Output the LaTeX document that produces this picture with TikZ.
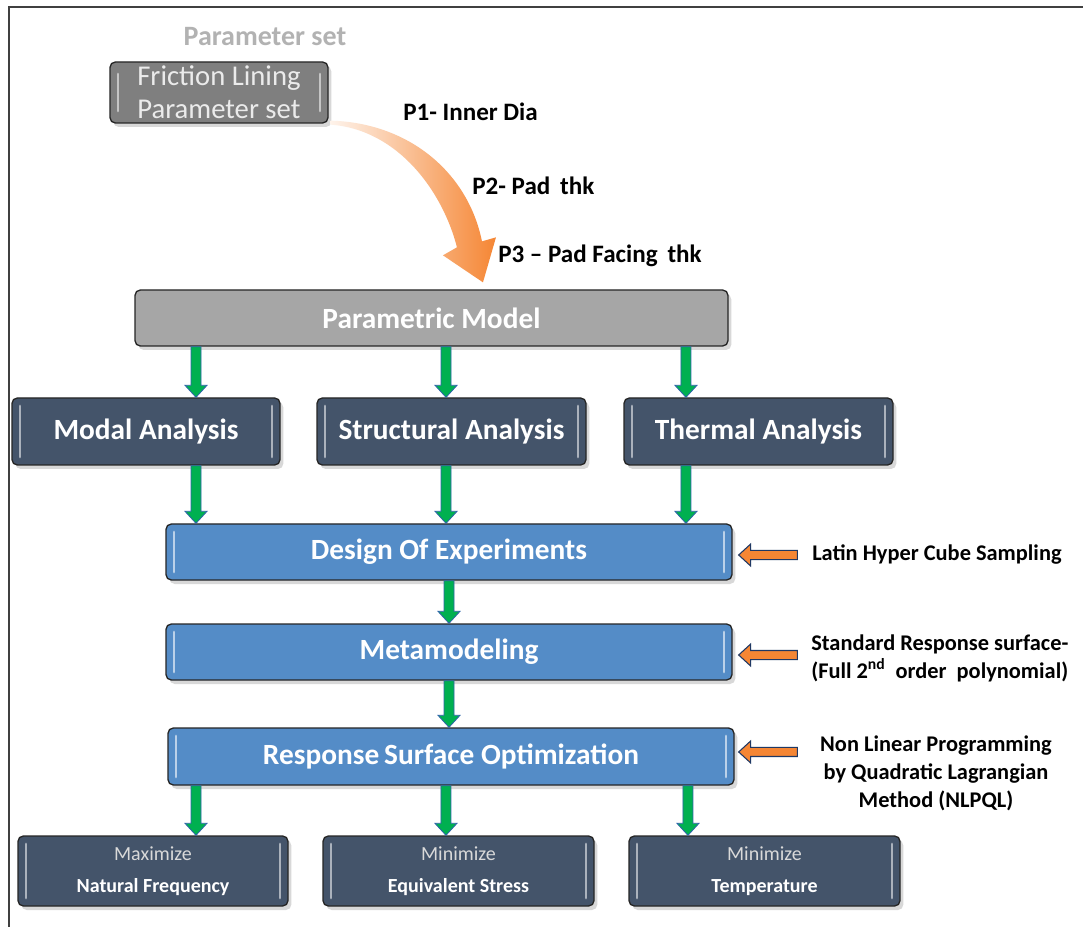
\documentclass[tikz,border=0pt]{standalone}
\usepackage{fontspec}
\setmainfont{Carlito}
\usetikzlibrary{calc,shadows}
\definecolor{fricgray}{RGB}{127,127,127}
\definecolor{pmgray}{RGB}{166,166,166}
\definecolor{slate}{RGB}{68,84,106}
\definecolor{boxblue}{RGB}{84,140,199}
\definecolor{agreen}{RGB}{0,176,80}
\definecolor{ablue}{RGB}{46,100,170}
\definecolor{orng}{RGB}{245,134,52}
\definecolor{navy}{RGB}{31,56,100}
\definecolor{framegray}{RGB}{64,64,64}
\tikzset{
  basebox/.style={draw=black!85, line width=1pt, rounded corners=4pt, inner sep=0pt,
    drop shadow={shadow xshift=2.5pt, shadow yshift=-3pt, opacity=0.3}},
  barsdark/.style={path picture={
    \draw[white!55!slate, line width=2.2pt, line cap=round]
      ([xshift=6pt,yshift=-6pt]path picture bounding box.north west) --
      ([xshift=6pt,yshift=6pt]path picture bounding box.south west);
    \draw[white!55!slate, line width=2.2pt, line cap=round]
      ([xshift=-6pt,yshift=-6pt]path picture bounding box.north east) --
      ([xshift=-6pt,yshift=6pt]path picture bounding box.south east);}},
  barsblue/.style={path picture={
    \draw[white!60!boxblue, line width=2.2pt, line cap=round]
      ([xshift=6pt,yshift=-6pt]path picture bounding box.north west) --
      ([xshift=6pt,yshift=6pt]path picture bounding box.south west);
    \draw[white!60!boxblue, line width=2.2pt, line cap=round]
      ([xshift=-6pt,yshift=-6pt]path picture bounding box.north east) --
      ([xshift=-6pt,yshift=6pt]path picture bounding box.south east);}},
  barsgray/.style={path picture={
    \draw[white!55!fricgray, line width=2pt, line cap=round]
      ([xshift=6pt,yshift=-9pt]path picture bounding box.north west) --
      ([xshift=6pt,yshift=9pt]path picture bounding box.south west);
    \draw[white!55!fricgray, line width=2pt, line cap=round]
      ([xshift=-6pt,yshift=-9pt]path picture bounding box.north east) --
      ([xshift=-6pt,yshift=9pt]path picture bounding box.south east);}},
  darkbox/.style={basebox, fill=slate, barsdark, text=white, minimum height=50.25pt,
    font=\fontsize{22pt}{26pt}\selectfont\bfseries},
  bluebox/.style={basebox, fill=boxblue, barsblue, text=white, minimum width=424.5pt,
    minimum height=42pt, font=\fontsize{22pt}{26pt}\selectfont\bfseries},
  goalbox/.style={basebox, fill=slate, barsdark, text=white, minimum width=202.5pt,
    minimum height=52.5pt, align=center, font=\fontsize{15pt}{24pt}\selectfont},
  plabel/.style={anchor=west, inner sep=0pt, font=\fontsize{18.8pt}{22pt}\selectfont\bfseries},
  slabel/.style={inner sep=0pt, font=\fontsize{16.8pt}{21pt}\selectfont\bfseries},
  garrow/.style={draw=ablue, fill=agreen, line width=0.6pt, to path={
    let \p1=(\tikztostart), \p2=(\tikztotarget) in
    (\x1-3.75pt,\y1) -- (\x1-3.75pt,\y2+9pt) -- (\x1-8.25pt,\y2+9pt) -- (\x1,\y2)
    -- (\x1+8.25pt,\y2+9pt) -- (\x1+3.75pt,\y2+9pt) -- (\x1+3.75pt,\y1) -- cycle}},
  oarrow/.style={draw=navy, fill=orng, line width=0.8pt, to path={
    let \p1=(\tikztostart), \p2=(\tikztotarget) in
    (\x1,\y1+3.4pt) -- (\x2+9pt,\y1+3.4pt) -- (\x2+9pt,\y1+8.25pt) -- (\x2,\y1)
    -- (\x2+9pt,\y1-8.25pt) -- (\x2+9pt,\y1-3.4pt) -- (\x1,\y1-3.4pt) -- cycle}}
}
\begin{document}
\begin{tikzpicture}[x=0.75pt,y=-0.75pt]
\useasboundingbox (0,0) rectangle (1083,927);
\fill[white] (0,0) rectangle (1083,927);
% frame
\draw[framegray, line width=2pt] (9,927) -- (9,7) -- (1083,7);

% ghost title
\node[text=black!30, font=\fontsize{21pt}{24pt}\selectfont\bfseries] (ghost) at (265,37) {Parameter set};

% top boxes
\node[basebox, fill=fricgray, barsgray, text=white!92!black, minimum width=163.5pt, minimum height=45.75pt,
  align=left, font=\fontsize{21.5pt}{24.75pt}\selectfont] (fric) at (219,92.5) {Friction Lining\\Parameter set};
\node[basebox, fill=pmgray, text=white, minimum width=444.75pt, minimum height=42pt,
  font=\fontsize{22pt}{26pt}\selectfont\bfseries] (pm) at (431.5,318) {Parametric Model};

% parameter labels
\node[plabel] (p1) at (403,112) {P1- Inner Dia};
\node[plabel] (p2) at (472,186) {P2- Pad\, thk};
\node[plabel] (p3) at (498,256) {P3 -- Pad Facing\, thk};

% curved orange arrow
\coordinate (cs) at (fric.south east);
\coordinate (ct) at ([xshift=38.6pt,yshift=5.25pt]pm.north);
\shade[left color=orng!10, middle color=orng!95, right color=orng]
  ($(cs)+(2,-3)$) .. controls ($(cs)+(80,-1)$) and ($(ct)+(-15,-110)$) .. ($(ct)+(-1,-41)$)
  -- ($(ct)+(13,-45)$) -- (ct) -- ($(ct)+(-40,-27)$) -- ($(ct)+(-26,-35)$)
  .. controls ($(ct)+(-40,-90)$) and ($(cs)+(70,6)$) .. ($(cs)+(2,1)$) -- cycle;

% analysis row
\node[darkbox, minimum width=201pt] (modal) at (146,431.5) {Modal Analysis};
\node[darkbox, minimum width=201.75pt] (struct) at (451.5,431.5) {Structural Analysis};
\node[darkbox, minimum width=201.75pt] (therm) at (758.5,431.5) {Thermal Analysis};

% blue boxes
\node[bluebox] (doe) at (449,552) {Design Of Experiments};
\node[bluebox] (meta) at (449,652) {Metamodeling};
\node[bluebox, minimum height=42.75pt] (rso) at (451,756.5) {Response\,Surface Optimization};

% goal boxes
\node[goalbox] (gmax) at (153,871) {{\color{white!85!black}Maximize}\\\textbf{Natural Frequency}};
\node[goalbox, minimum width=203.25pt] (gstress) at (458.5,871) {{\color{white!85!black}Minimize}\\\textbf{Equivalent Stress}};
\node[goalbox, minimum width=203.25pt] (gtemp) at (764.5,871) {{\color{white!85!black}Minimize}\\\textbf{Temperature}};

% side labels
\node[slabel, anchor=west] (lhc) at (812,555) {Latin Hyper Cube Sampling};
\node[slabel, anchor=west, align=left] (srs) at (811,658) {Standard Response surface-\\(Full 2\textsuperscript{nd}\ \ order\ \ polynomial)};
\node[slabel, align=center] (nlp) at (936,773) {Non Linear Programming\\by Quadratic Lagrangian\\Method (NLPQL)};

% arrow coordinates
\coordinate (c1) at ([xshift=37.5pt]modal.north);
\coordinate (c2) at ([xshift=-4.1pt]struct.north);
\coordinate (c3) at ([xshift=-54.4pt]therm.north);
\coordinate (d1) at ([xshift=32.25pt]gmax.north);
\coordinate (d2) at ([xshift=-9.4pt]gstress.north);
\coordinate (d3) at ([xshift=-57.4pt]gtemp.north);

% green arrows
\draw[garrow] (pm.south -| c1) to (c1);
\draw[garrow] (pm.south -| c2) to (c2);
\draw[garrow] (pm.south -| c3) to (c3);
\draw[garrow] (modal.south -| c1) to (doe.north -| c1);
\draw[garrow] (struct.south -| c2) to (doe.north -| c2);
\draw[garrow] (therm.south -| c3) to (doe.north -| c3);
\draw[garrow] (doe.south) to (meta.north);
\draw[garrow] (meta.south) to (meta.south |- rso.north);
\draw[garrow] (rso.south -| d1) to (d1);
\draw[garrow] (rso.south -| d2) to (d2);
\draw[garrow] (rso.south -| d3) to (d3);

% orange side arrows
\draw[oarrow] ([xshift=-11pt,yshift=-2.25pt]lhc.west |- doe.east) to ([xshift=4.5pt,yshift=-2.25pt]doe.east);
\draw[oarrow] ([xshift=-11pt,yshift=-2.25pt]lhc.west |- meta.east) to ([xshift=4.5pt,yshift=-2.25pt]meta.east);
\draw[oarrow] ([xshift=-11pt,yshift=3.4pt]lhc.west |- rso.east) to ([xshift=3pt,yshift=3.4pt]rso.east);
\end{tikzpicture}
\end{document}
